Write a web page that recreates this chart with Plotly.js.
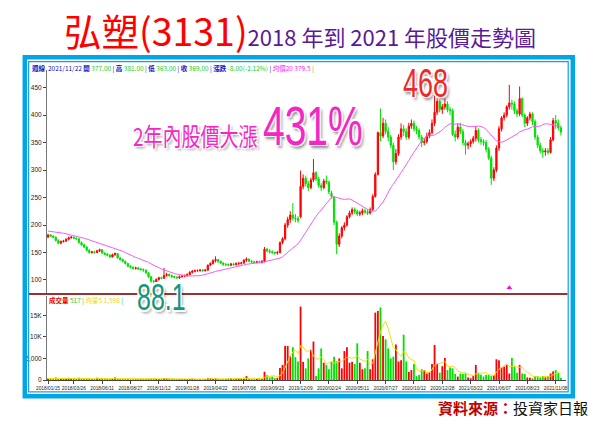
<!DOCTYPE html>
<html><head><meta charset="utf-8">
<script src="https://cdn.plot.ly/plotly-3.0.1.min.js"></script>
<style>html,body{margin:0;padding:0;background:#fff;}#chart{width:600px;height:421px;}</style>
</head><body><div id="chart"></div>
<script>
// ---- data (weekly candles, 2018/01/15 .. 2021/11/22) ----
const tickLabels = ['2018/01/15','2018/03/26','2018/06/11','2018/08/27','2018/11/12','2019/01/28','2019/04/22','2019/07/08','2019/09/23','2019/12/09','2020/02/24','2020/05/11','2020/07/27','2020/10/12','2020/12/28','2021/03/22','2021/06/07','2021/08/23','2021/11/08'];
const tickWeeks = [0,10,21,32,43,54,65,76,87,98,109,120,131,142,153,164,175,186,197];

const openP = [178,182,180,178,172,167,170,171,174,177,
178,176,175,168,164,160,154,150,151,150,
153,155,149,147,145,142,146,148,140,137,
134,130,125,123,121,122,120,119,118,113,
106,98,97,101,104,103,108,110,108,106,
105,104,106,107,108,110,114,116,117,117,
118,117,118,127,130,135,137,134,131,128,
128,127,129,128,130,130,131,136,138,134,
133,132,133,132,134,156,153,151,150,149,
150,168,175,200,210,218,213,212,215,270,
285,275,268,282,295,284,272,268,280,278,
258,250,205,165,180,195,200,215,222,228,
225,220,222,226,224,222,228,252,292,368,
362,385,370,360,345,315,330,360,375,370,
360,380,385,375,372,360,350,352,362,368,
385,405,425,410,415,420,410,408,365,360,
378,370,350,345,348,352,358,372,355,352,
350,338,322,285,300,340,375,395,400,415,
422,420,408,402,430,400,385,395,402,388,
360,345,335,333,335,332,355,390,385,377];

const highP = [184,183,181,179,174,172,173,176,179,180,
179,178,176,170,166,161,156,153,153,155,
157,156,150,149,147,148,150,149,142,139,
135,131,127,125,124,124,122,121,119,114,
107,100,103,106,106,122,113,112,110,108,
107,108,109,110,112,116,118,119,119,120,
120,120,128,132,138,143,138,135,132,131,
130,131,131,132,133,133,138,141,139,136,
135,135,135,136,160,158,156,154,152,153,
170,178,204,215,225,240,220,216,299,292,
290,280,286,320,298,288,276,284,290,281,
262,252,208,185,198,205,218,226,232,232,
228,226,230,230,228,232,256,296,370,412,
395,392,378,364,350,338,365,385,382,376,
386,392,390,380,376,364,358,368,374,392,
468,430,428,420,430,425,415,412,372,385,
386,375,355,352,356,362,380,376,360,356,
355,342,326,305,345,380,398,405,418,455,
428,425,412,452,432,403,398,406,405,392,
364,350,340,340,340,360,395,400,392,381];

const lowP = [176,178,176,170,165,165,168,169,172,175,
174,173,166,162,158,152,148,148,148,149,
151,148,145,143,140,141,144,139,135,132,
128,123,121,119,119,118,117,115,111,104,
95,88.1,95,99,101,102,106,106,104,103,
102,102,104,105,106,108,112,114,115,115,
115,115,116,125,128,132,131,129,126,125,
125,125,126,126,127,128,129,133,132,131,
130,130,130,130,132,150,148,147,146,146,
148,165,172,195,204,208,205,204,212,265,
270,262,265,278,280,268,262,265,274,256,
248,200,147,160,176,190,197,212,218,220,
216,216,218,220,218,219,226,250,290,352,
358,365,352,340,300,310,326,355,362,355,
356,375,370,365,355,342,345,348,358,365,
380,400,405,402,410,405,400,362,352,356,
365,345,328,338,342,348,352,350,346,344,
332,318,273,280,296,335,370,390,396,410,
410,402,396,398,396,378,380,390,382,355,
340,330,322,326,328,330,352,375,372,363];

const closeP = [182,180,178,172,167,170,171,174,177,178,
176,175,168,164,160,154,150,151,150,153,
155,149,147,145,142,146,148,140,137,134,
130,125,123,121,122,120,119,118,113,106,
98,97,101,104,103,108,110,108,106,105,
104,106,107,108,110,114,116,117,117,118,
117,118,127,130,135,137,134,131,128,128,
127,129,128,130,130,131,136,138,134,133,
132,133,132,134,156,153,151,150,149,150,
168,175,200,210,218,213,212,208,270,285,
275,268,282,295,284,272,268,280,278,260,
252,205,165,180,195,200,215,222,228,225,
220,222,226,224,222,228,252,292,368,362,
385,370,360,345,315,330,360,375,370,360,
380,385,375,372,360,350,352,362,368,385,
405,425,410,415,420,410,408,365,360,378,
370,350,345,348,352,358,372,355,352,350,
338,322,285,300,340,375,395,400,415,422,
420,408,402,430,400,385,395,402,388,360,
345,335,333,335,332,355,390,385,377,369];

const volume = [350,250,200,600,300,250,200,250,500,300,
500,250,500,300,250,350,300,200,250,500,
300,500,350,250,200,300,600,300,250,200,
250,300,200,200,150,200,300,200,250,300,
350,300,250,200,250,400,400,300,300,300,
200,200,150,200,200,250,300,200,150,200,
150,200,400,400,300,400,250,200,200,200,
400,400,350,300,400,300,500,900,300,200,
200,250,400,300,1900,1100,600,800,400,500,
2800,3500,7900,7900,5500,7600,5300,4300,17000,4200,
2700,5000,6900,8900,900,2700,7300,4000,3500,2500,
4200,5400,4300,5000,2700,6700,7600,4000,4200,3700,
8500,4000,2500,2700,6700,2500,4800,15600,16000,16800,
10200,9400,7300,5000,5400,8200,4300,4600,10500,4300,
1900,2300,3700,900,1200,2500,2300,1500,1800,3700,
8100,3700,1700,3200,5100,2300,2900,2700,1400,800,
1500,1400,1700,600,400,900,3500,1700,1200,800,
1200,1200,900,1100,4800,4600,2900,3100,3500,1500,
5100,3100,1700,3500,1500,1400,600,500,400,900,
900,600,900,600,900,1500,2000,2300,1700,517];

// 20-week average before enough history exists
const ma20Head = [189,188.5,188,187,186,185.5,185,184,183,182,181,180,179,177.5,176,174.5,173,171,169.5];

const markerWeek = [179];
const markerLevel = [86];

// ---- derived ----
const idx = closeP.map((_, i) => i);
const ma20 = closeP.map((_, i) => {
  if (i < 19) return ma20Head[i];
  let s = 0; for (let k = i - 19; k <= i; k++) s += closeP[k]; return s / 20;
});
const ma5v = volume.map((_, i) => {
  const a = Math.max(0, i - 4); let s = 0; for (let k = a; k <= i; k++) s += volume[k]; return s / (i - a + 1);
});
const RED = '#ff0000', GREEN = '#00e000';
const volColors = closeP.map((c, i) => c >= openP[i] ? RED : GREEN);

const px = x => x / 600, py = y => 1 - y / 421;

const traces = [
  {type:'candlestick', x: idx, open: openP, high: highP, low: lowP, close: closeP,
   xaxis:'x', yaxis:'y', whiskerwidth:0,
   increasing:{line:{color:RED, width:1}, fillcolor:RED},
   decreasing:{line:{color:GREEN, width:1}, fillcolor:GREEN}, hoverinfo:'skip'},
  {type:'scatter', mode:'lines', x: idx, y: ma20, xaxis:'x', yaxis:'y',
   line:{color:'#f060f0', width:1}, hoverinfo:'skip'},
  {type:'scatter', mode:'markers', x: markerWeek, y: markerLevel, xaxis:'x', yaxis:'y',
   marker:{symbol:'triangle-up', size:5, color:'#ff00ff'}, hoverinfo:'skip'},
  {type:'bar', x: idx, y: volume, xaxis:'x2', yaxis:'y2', marker:{color: volColors, line:{width:0}}, hoverinfo:'skip'},
  {type:'scatter', mode:'lines', x: idx, y: ma5v, xaxis:'x2', yaxis:'y2',
   line:{color:'#f5e000', width:1}, hoverinfo:'skip'}
];

const SANS = 'Liberation Sans, Arial, sans-serif';
const tickFont = {family:SANS, size:6.5, color:'#222'};
const glow = '-1.5px -1.5px 0 #fff, 1.5px -1.5px 0 #fff, -1.5px 1.5px 0 #fff, 1.5px 1.5px 0 #fff, 2.5px 2.5px 3px rgba(0,0,0,0.45)';
const xr = [-0.4, 201];
const layout = {
  width:600, height:421, margin:{l:0,r:0,t:0,b:0},
  paper_bgcolor:'#fff', plot_bgcolor:'#fff', showlegend:false, bargap:0.3,
  xaxis:{domain:[px(47), px(566)], range:xr, anchor:'y', showticklabels:false, showgrid:false, zeroline:false,
         showline:false, rangeslider:{visible:false}, fixedrange:true},
  yaxis:{domain:[py(294), py(70)], range:[74.5, 482], tickvals:[100,150,200,250,300,350,400,450],
         ticks:'outside', ticklen:3, tickcolor:'#444', tickfont:tickFont, showgrid:false, zeroline:false,
         showline:true, linecolor:'#777', linewidth:1},
  xaxis2:{domain:[px(47), px(566)], range:xr, anchor:'y2', tickvals:tickWeeks, ticktext:tickLabels, tickangle:0,
          ticks:'outside', ticklen:3, tickcolor:'#444', tickfont:{family:SANS, size:4.8, color:'#222'}, showgrid:false, zeroline:false,
          showline:true, linecolor:'#444', linewidth:1},
  yaxis2:{domain:[py(380), py(296)], range:[0, 19450], tickvals:[0,5000,10000,15000], ticktext:['0','5,000','10K','15K'],
          ticks:'outside', ticklen:3, tickcolor:'#444', tickfont:tickFont, showgrid:false, zeroline:false,
          showline:true, linecolor:'#777', linewidth:1},
  shapes:[
    {type:'rect', xref:'paper', yref:'paper', x0:px(24.8), x1:px(572.8), y0:py(396.2), y1:py(57.3),
     line:{color:'#00a6e6', width:4.5}},
    {type:'rect', xref:'paper', yref:'paper', x0:px(28.6), x1:px(568.2), y0:py(391.8), y1:py(61.6),
     line:{color:'#1a9fe0', width:1.2}},
    {type:'line', xref:'paper', yref:'paper', x0:px(29), x1:px(567.5), y0:py(294), y1:py(294),
     line:{color:'#993333', width:2}}
  ],
  annotations:[
    {xref:'paper', yref:'paper', x:px(300), y:py(29), xanchor:'center', yanchor:'middle', showarrow:false,
     font:{family:'Noto Sans CJK TC', size:22, color:'#5a1a9a'},
     text:'<span style="color:#ff0000;font-size:37.5px">弘塑(3131)</span>2018 年到 2021 年股價走勢圖'},
    {xref:'paper', yref:'paper', x:px(30), y:py(68), xanchor:'left', yanchor:'middle', showarrow:false,
     font:{family:'Noto Sans CJK TC', size:6.5, color:'#1010c0'},
     text:'<b>週線</b>  2021/11/22 <b>開</b> <span style="color:#22cc22">377.00</span> | <b>高</b> <span style="color:#22cc22">381.00</span> | <b>低</b> <span style="color:#22cc22">363.00</span> | <b>收</b> <span style="color:#22cc22">369.00</span> | <b>漲跌</b> <span style="color:#22cc22">-8.00(-2.12%)</span> | <span style="color:#ff22ff">均價20 379.5</span> <span style="color:#22cc22">|</span>'},
    {xref:'paper', yref:'paper', x:px(47), y:py(299.5), xanchor:'left', yanchor:'middle', showarrow:false,
     font:{family:'Noto Sans CJK TC', size:6.5, color:'#ee0000'},
     text:'<b>成交量</b> <span style="color:#22cc22">517</span> <span style="color:#22cc22">|</span> <span style="color:#e8d800">均量5 1,598</span> <span style="color:#22cc22">|</span>'},
    {xref:'paper', yref:'paper', x:px(131), y:py(135), xanchor:'left', yanchor:'middle', showarrow:false,
     font:{family:'Noto Sans CJK TC', size:19, color:'#f626c6', shadow:glow},
     text:'2年內股價大漲'},
    {xref:'paper', yref:'paper', x:px(261), y:py(125), xanchor:'left', yanchor:'middle', showarrow:false,
     font:{family:SANS, size:39, color:'#f626c6', shadow:glow},
     text:'431%'},
    {xref:'paper', yref:'paper', x:px(425), y:py(83), xanchor:'center', yanchor:'middle', showarrow:false,
     font:{family:SANS, size:27, color:'#f02828', shadow:glow},
     text:'468'},
    {xref:'paper', yref:'paper', x:px(161), y:py(297), xanchor:'center', yanchor:'middle', showarrow:false,
     font:{family:SANS, size:25, color:'#12977c', shadow:glow},
     text:'88.1'},
    {xref:'paper', yref:'paper', x:px(590), y:py(407), xanchor:'right', yanchor:'middle', showarrow:false,
     font:{family:'Noto Sans CJK TC', size:15, color:'#111'},
     text:'<b><span style="color:#c00000">資料來源：</span></b>投資家日報'}
  ]
};
// vertical stretch for the condensed display texts of the original
const stretch = {3:1.3, 4:1.42, 5:1.5, 6:1.45};
Plotly.newPlot('chart', traces, layout, {staticPlot:true, displayModeBar:false}).then(gd => {
  const anns = gd.querySelectorAll('.annotation');
  Object.keys(stretch).forEach(k => {
    const t = anns[k] && anns[k].querySelector('text');
    if (t) { t.style.transformBox = 'fill-box'; t.style.transformOrigin = 'center'; t.style.transform = 'scaleY(' + stretch[k] + ')'; }
  });
});
</script></body></html>
